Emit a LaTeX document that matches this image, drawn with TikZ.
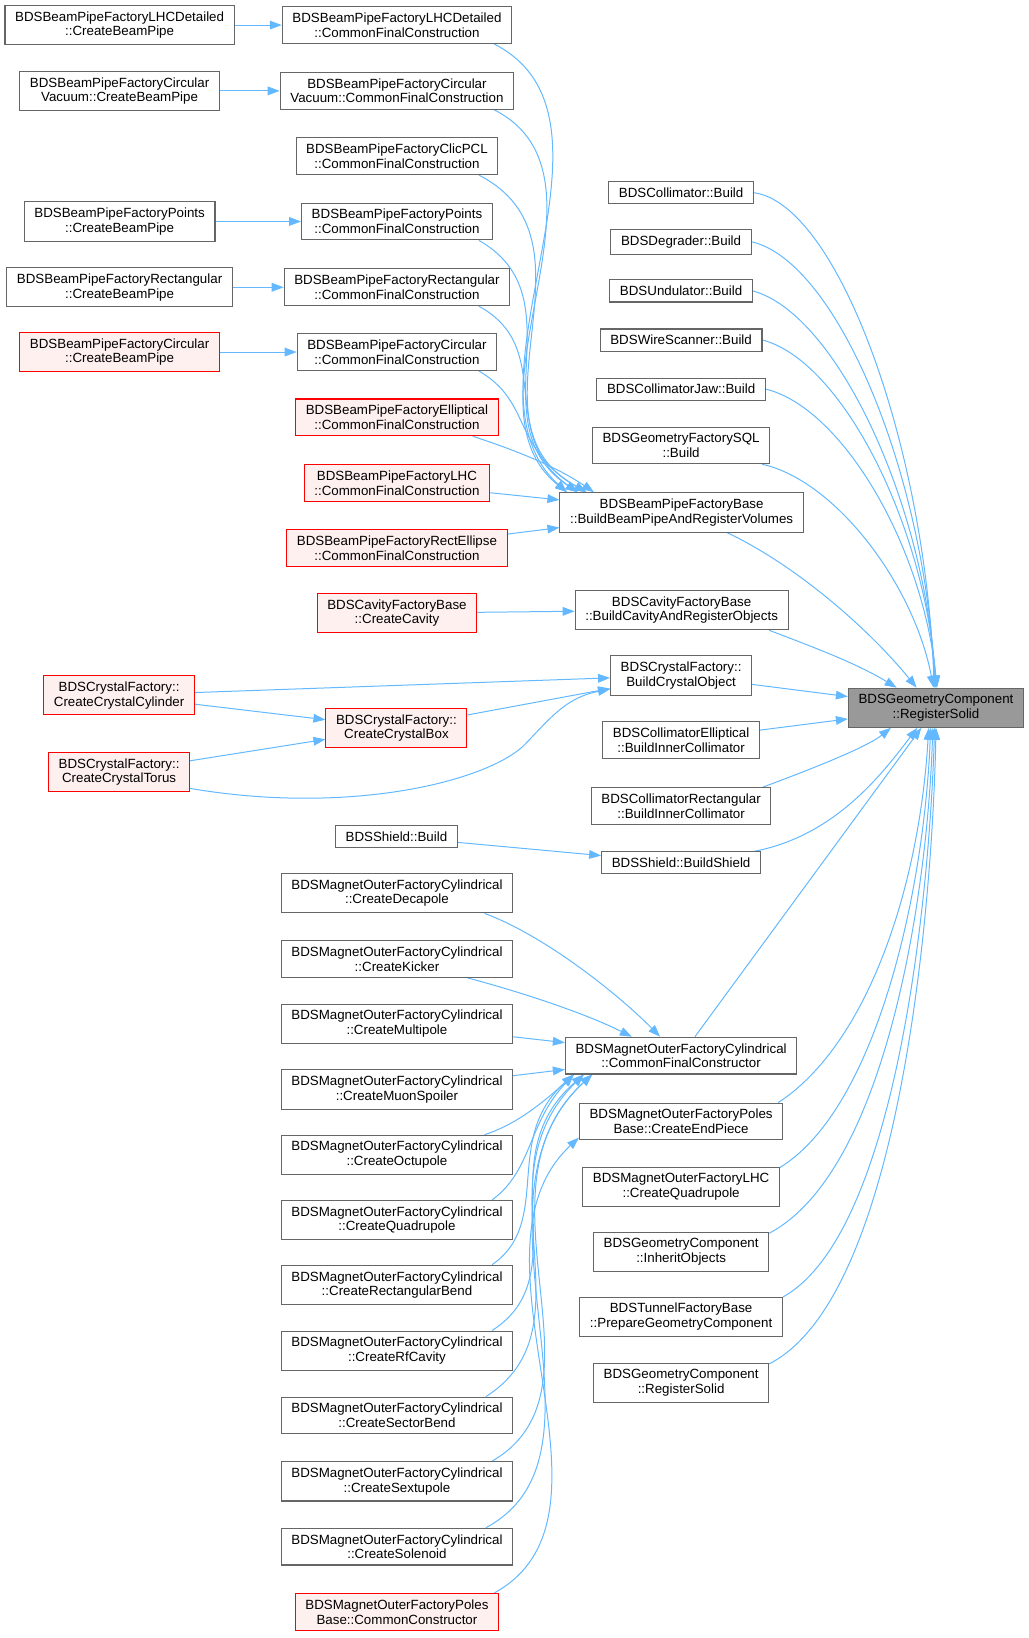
\documentclass[tikz,border=0pt]{standalone}
\usepackage{fontspec}
\setmainfont{Liberation Sans}
\usetikzlibrary{arrows.meta}
\usetikzlibrary{backgrounds}

\definecolor{callblue}{HTML}{63B8FF}
\definecolor{boxgray}{HTML}{666666}
\definecolor{redfill}{HTML}{FFF0F0}
\definecolor{rootfill}{HTML}{999999}

\begin{document}
\begin{tikzpicture}[x=0.7835pt,y=-0.7835pt,
	box/.style={draw=boxgray,fill=white,rectangle,align=center,line width=0.8pt,
		inner xsep=7.6pt,inner ysep=4.6pt,font=\fontsize{10pt}{11pt}\selectfont},
	redbox/.style={box,draw=red,fill=redfill},
	rootbox/.style={box,fill=rootfill},
	call/.style={draw=callblue,line width=0.75pt,-{Triangle[length=9pt,width=6.5pt]}}]
	\useasboundingbox (0,0) rectangle (985,1568);

	% left column
	\node[box] at (114.5,24) (lhcdCreate) {BDSBeamPipeFactoryLHCDetailed\\::CreateBeamPipe};
	\node[box] at (114.5,87) (circvCreate) {BDSBeamPipeFactoryCircular\\Vacuum::CreateBeamPipe};
	\node[box] at (114.5,212) (pointsCreate) {BDSBeamPipeFactoryPoints\\::CreateBeamPipe};
	\node[box] at (114.5,275) (rectCreate) {BDSBeamPipeFactoryRectangular\\::CreateBeamPipe};
	\node[redbox] at (114.5,337) (circCreate) {BDSBeamPipeFactoryCircular\\::CreateBeamPipe};
	\node[redbox] at (114,665.5) (cylinder) {BDSCrystalFactory::\\CreateCrystalCylinder};
	\node[redbox] at (114,739) (torus) {BDSCrystalFactory::\\CreateCrystalTorus};

	% middle column
	\node[box] at (380,24) (lhcdFinal) {BDSBeamPipeFactoryLHCDetailed\\::CommonFinalConstruction};
	\node[box] at (380,87) (circvFinal) {BDSBeamPipeFactoryCircular\\Vacuum::CommonFinalConstruction};
	\node[box] at (380,149.5) (clicFinal) {BDSBeamPipeFactoryClicPCL\\::CommonFinalConstruction};
	\node[box] at (380,212) (pointsFinal) {BDSBeamPipeFactoryPoints\\::CommonFinalConstruction};
	\node[box] at (380,275) (rectFinal) {BDSBeamPipeFactoryRectangular\\::CommonFinalConstruction};
	\node[box] at (380,337) (circFinal) {BDSBeamPipeFactoryCircular\\::CommonFinalConstruction};
	\node[redbox] at (380,399.5) (ellFinal) {BDSBeamPipeFactoryElliptical\\::CommonFinalConstruction};
	\node[redbox] at (380,462.5) (lhcFinal) {BDSBeamPipeFactoryLHC\\::CommonFinalConstruction};
	\node[redbox] at (380,524.5) (rectellFinal) {BDSBeamPipeFactoryRectEllipse\\::CommonFinalConstruction};
	\node[redbox] at (380,587) (cavCreate) {BDSCavityFactoryBase\\::CreateCavity};
	\node[redbox] at (379.5,697) (crysBox) {BDSCrystalFactory::\\CreateCrystalBox};
	\node[box] at (379.5,801) (shieldBuild) {BDSShield::Build};
	\node[box] at (380,855) (decapole) {BDSMagnetOuterFactoryCylindrical\\::CreateDecapole};
	\node[box] at (380,918) (kicker) {BDSMagnetOuterFactoryCylindrical\\::CreateKicker};
	\node[box] at (380,980) (multipole) {BDSMagnetOuterFactoryCylindrical\\::CreateMultipole};
	\node[box] at (380,1043) (muon) {BDSMagnetOuterFactoryCylindrical\\::CreateMuonSpoiler};
	\node[box] at (380,1105.5) (octupole) {BDSMagnetOuterFactoryCylindrical\\::CreateOctupole};
	\node[box] at (380,1168) (quadrupole) {BDSMagnetOuterFactoryCylindrical\\::CreateQuadrupole};
	\node[box] at (380,1230) (rectbend) {BDSMagnetOuterFactoryCylindrical\\::CreateRectangularBend};
	\node[box] at (380,1293) (rfcavity) {BDSMagnetOuterFactoryCylindrical\\::CreateRfCavity};
	\node[box] at (380,1355) (sectorbend) {BDSMagnetOuterFactoryCylindrical\\::CreateSectorBend};
	\node[box] at (380,1418) (sextupole) {BDSMagnetOuterFactoryCylindrical\\::CreateSextupole};
	\node[box] at (380,1480.5) (solenoid) {BDSMagnetOuterFactoryCylindrical\\::CreateSolenoid};
	\node[redbox] at (380,1543) (polesCommon) {BDSMagnetOuterFactoryPoles\\Base::CommonConstructor};

	% right column
	\node[box] at (652,184.5) (collBuild) {BDSCollimator::Build};
	\node[box] at (652,231.5) (degBuild) {BDSDegrader::Build};
	\node[box] at (652,278.5) (undBuild) {BDSUndulator::Build};
	\node[box] at (652,325.5) (wireBuild) {BDSWireScanner::Build};
	\node[box] at (652,372.5) (jawBuild) {BDSCollimatorJaw::Build};
	\node[box] at (652,426.5) (sqlBuild) {BDSGeometryFactorySQL\\::Build};
	\node[box] at (652.5,490.5) (bpBase) {BDSBeamPipeFactoryBase\\::BuildBeamPipeAndRegisterVolumes};
	\node[box] at (652.5,584) (cavBuild) {BDSCavityFactoryBase\\::BuildCavityAndRegisterObjects};
	\node[box] at (652,646.5) (crysObj) {BDSCrystalFactory::\\BuildCrystalObject};
	\node[box] at (652,708.5) (ellInner) {BDSCollimatorElliptical\\::BuildInnerCollimator};
	\node[box] at (652,771.5) (rectInner) {BDSCollimatorRectangular\\::BuildInnerCollimator};
	\node[box] at (652,826) (shieldShield) {BDSShield::BuildShield};
	\node[box] at (652,1010.5) (cylFinal) {BDSMagnetOuterFactoryCylindrical\\::CommonFinalConstructor};
	\node[box] at (652,1073.5) (polesEnd) {BDSMagnetOuterFactoryPoles\\Base::CreateEndPiece};
	\node[box] at (652,1136) (lhcQuad) {BDSMagnetOuterFactoryLHC\\::CreateQuadrupole};
	\node[box] at (652,1198.5) (inherit) {BDSGeometryComponent\\::InheritObjects};
	\node[box] at (652,1260.5) (tunnel) {BDSTunnelFactoryBase\\::PrepareGeometryComponent};
	\node[box] at (652,1323.5) (regSolid) {BDSGeometryComponent\\::RegisterSolid};

	\node[rootbox] at (896,677.5) (root) {BDSGeometryComponent\\::RegisterSolid};

	\begin{scope}[on background layer]
		% beam pipes
		\draw[call] (lhcdCreate) -- (lhcdFinal);
		\draw[call] (circvCreate) -- (circvFinal);
		\draw[call] (pointsCreate) -- (pointsFinal);
		\draw[call] (rectCreate) -- (rectFinal);
		\draw[call] (circCreate) -- (circFinal);
		\draw[call] (lhcdFinal.-11) .. controls (615,115) and (430,370) .. (bpBase.170);
		\draw[call] (circvFinal.-11) .. controls (600,170) and (435,385) .. (bpBase.170);
		\draw[call] (clicFinal.-13) .. controls (580,230) and (445,395) .. (bpBase.169);
		\draw[call] (pointsFinal.-13) .. controls (555,285) and (455,405) .. (bpBase.169);
		\draw[call] (rectFinal.-13) .. controls (535,335) and (470,420) .. (bpBase.168);
		\draw[call] (circFinal.-13) .. controls (510,385) and (490,430) .. (bpBase.168);
		\draw[call] (ellFinal.-14) .. controls (490,430) and (530,445) .. (bpBase.167);
		\draw[call] (lhcFinal) -- (bpBase);
		\draw[call] (rectellFinal) -- (bpBase);
		\draw[call] (cavCreate) -- (cavBuild);

		% crystals and shield
		\draw[call] (cylinder) -- (crysObj);
		\draw[call] (cylinder) -- (crysBox);
		\draw[call] (torus) -- (crysBox);
		\draw[call] (torus.-13) .. controls (330,780) and (460,750) .. (500,715)
			.. controls (525,690) and (540,668) .. (crysObj.191);
		\draw[call] (crysBox) -- (crysObj);
		\draw[call] (shieldBuild) -- (shieldShield);

		% magnets
		\draw[call] (decapole.-13) .. controls (520,895) and (590,950) .. (cylFinal.138);
		\draw[call] (kicker.-15) .. controls (500,950) and (560,970) .. (cylFinal.159);
		\draw[call] (multipole) -- (cylFinal);
		\draw[call] (muon) -- (cylFinal);
		\draw[call] (octupole.13) .. controls (490,1078) and (515,1060) .. (cylFinal.190);
		\draw[call] (quadrupole.12) .. controls (510,1120) and (505,1075) .. (cylFinal.190);
		\draw[call] (rectbend.12) .. controls (530,1170) and (480,1090) .. (cylFinal.190);
		\draw[call] (rfcavity.12) .. controls (555,1220) and (465,1110) .. (cylFinal.191);
		\draw[call] (sectorbend.12) .. controls (570,1270) and (455,1130) .. (cylFinal.191);
		\draw[call] (sextupole.12) .. controls (590,1330) and (445,1140) .. (cylFinal.192);
		\draw[call] (solenoid.12) .. controls (600,1390) and (435,1150) .. (cylFinal.192);
		\draw[call] (polesCommon.11) .. controls (610,1450) and (435,1200) .. (polesEnd.189);

		% into the root
		\draw[call] (collBuild.east) .. controls (800,195) and (885,420) .. (root.95);
		\draw[call] (degBuild.east) .. controls (800,250) and (885,450) .. (root.93);
		\draw[call] (undBuild.east) .. controls (800,300) and (885,480) .. (root.91);
		\draw[call] (wireBuild.east) .. controls (805,345) and (885,500) .. (root.89);
		\draw[call] (jawBuild.east) .. controls (805,390) and (883,520) .. (root.87);
		\draw[call] (sqlBuild.-13) .. controls (800,460) and (875,560) .. (root.97);
		\draw[call] (bpBase.-24) .. controls (760,540) and (830,600) .. (root.134);
		\draw[call] (cavBuild.-13) .. controls (780,620) and (820,635) .. (root.153);
		\draw[call] (crysObj) -- (root);
		\draw[call] (ellInner) -- (root);
		\draw[call] (rectInner.13) .. controls (780,735) and (830,715) .. (root.204);
		\draw[call] (shieldShield.9) .. controls (800,800) and (845,740) .. (root.227);
		\draw[call] (cylFinal) -- (root);
		\draw[call] (polesEnd.11) .. controls (830,1000) and (880,850) .. (root.250);
		\draw[call] (lhcQuad.11) .. controls (840,1060) and (885,850) .. (root.255);
		\draw[call] (inherit.12) .. controls (850,1120) and (888,850) .. (root.261);
		\draw[call] (tunnel.11) .. controls (860,1180) and (890,850) .. (root.266);
		\draw[call] (regSolid.12) .. controls (865,1240) and (893,850) .. (root.270);
	\end{scope}
\end{tikzpicture}
\end{document}
